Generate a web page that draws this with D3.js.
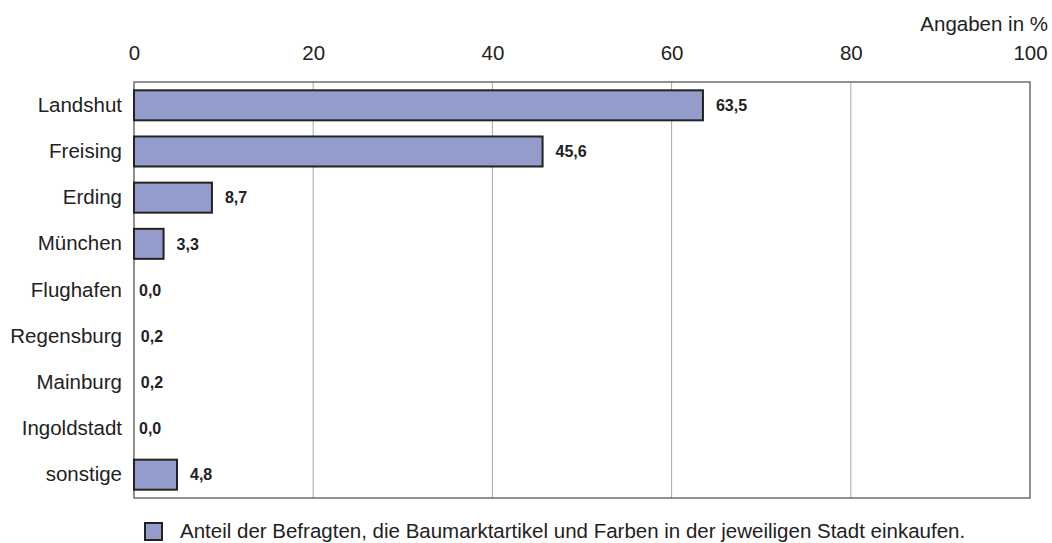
<!DOCTYPE html>
<html>
<head>
<meta charset="utf-8">
<script src="https://cdn.jsdelivr.net/npm/d3@7"></script>
<style>
  body { margin: 0; background: #fff; }
  svg text { font-family: "Liberation Sans", Arial, sans-serif; fill: #222; }
</style>
</head>
<body>
<div id="chart"></div>
<script>
// data
var cities = ["Landshut", "Freising", "Erding", "München", "Flughafen", "Regensburg", "Mainburg", "Ingoldstadt", "sonstige"];
var shares = [63.5, 45.6, 8.7, 3.3, 0.0, 0.2, 0.2, 0.0, 4.8];
var ticks = [0, 20, 40, 60, 80, 100];
var unitLabel = "Angaben in %";
var legendLabel = "Anteil der Befragten, die Baumarktartikel und Farben in der jeweiligen Stadt einkaufen.";

var w = 1052, h = 543;
// plot box (not "top": that name is taken by window.top)
var plotL = 134, plotR = 1030, plotT = 82, plotB = 498;
var fontSize = "20.5px";

var svg = d3.select("#chart").append("svg")
  .attr("width", w)
  .attr("height", h);

var x = d3.scaleLinear().domain([0, 100]).range([plotL, plotR]);
var y = d3.scaleBand().domain(cities).range([plotT, plotB]).paddingInner(0.35).paddingOuter(0.18);

// gridlines
svg.selectAll("line.grid")
  .data(ticks.slice(1, -1))
  .enter().append("line")
  .attr("class", "grid")
  .attr("x1", function(d) { return x(d); })
  .attr("x2", function(d) { return x(d); })
  .attr("y1", plotT)
  .attr("y2", plotB)
  .attr("stroke", "#a8a8a8")
  .attr("stroke-width", 1);

// plot frame
svg.append("rect")
  .attr("x", plotL)
  .attr("y", plotT)
  .attr("width", plotR - plotL)
  .attr("height", plotB - plotT)
  .attr("fill", "none")
  .attr("stroke", "#555")
  .attr("stroke-width", 1.3);

// top axis labels
var xAxis = d3.axisTop(x).tickValues(ticks).tickSize(0).tickPadding(0).tickFormat(d3.format("d"));
var gx = svg.append("g")
  .attr("transform", "translate(0,60)")
  .call(xAxis);
gx.select(".domain").remove();
gx.selectAll("text")
  .attr("y", 0)
  .attr("dy", 0)
  .style("font-size", fontSize)
  .style("font-family", "'Liberation Sans', Arial, sans-serif")
  .attr("fill", "#222");

svg.append("text")
  .attr("x", 1048)
  .attr("y", 31)
  .attr("text-anchor", "end")
  .style("font-size", fontSize)
  .text(unitLabel);

// category axis
var yAxis = d3.axisLeft(y).tickSize(0).tickPadding(12);
var gy = svg.append("g")
  .attr("transform", "translate(" + plotL + ",0)")
  .call(yAxis);
gy.select(".domain").remove();
gy.selectAll("text")
  .style("font-size", fontSize)
  .style("font-family", "'Liberation Sans', Arial, sans-serif")
  .attr("fill", "#222");

// bars
var rows = cities.map(function(c, i) { return { city: c, value: shares[i] }; });

svg.selectAll("rect.bar")
  .data(rows.filter(function(d) { return d.value >= 1; }))
  .enter().append("rect")
  .attr("class", "bar")
  .attr("x", x(0))
  .attr("y", function(d) { return y(d.city); })
  .attr("width", function(d) { return x(d.value) - x(0); })
  .attr("height", y.bandwidth())
  .attr("fill", "#939ccb")
  .attr("stroke", "#222")
  .attr("stroke-width", 2);

// value labels
svg.selectAll("text.val")
  .data(rows)
  .enter().append("text")
  .attr("class", "val")
  .attr("x", function(d) { return x(d.value) + (d.value >= 1 ? 13 : 5); })
  .attr("y", function(d) { return y(d.city) + y.bandwidth() / 2; })
  .attr("dy", "0.36em")
  .style("font-size", "16px")
  .style("font-weight", "bold")
  .text(function(d) { return d3.format(".1f")(d.value).replace(".", ","); });

// legend
svg.append("rect")
  .attr("x", 145)
  .attr("y", 523)
  .attr("width", 17)
  .attr("height", 17)
  .attr("fill", "#939ccb")
  .attr("stroke", "#222")
  .attr("stroke-width", 2);

svg.append("text")
  .attr("x", 180)
  .attr("y", 538)
  .style("font-size", fontSize)
  .text(legendLabel);
</script>
</body>
</html>
